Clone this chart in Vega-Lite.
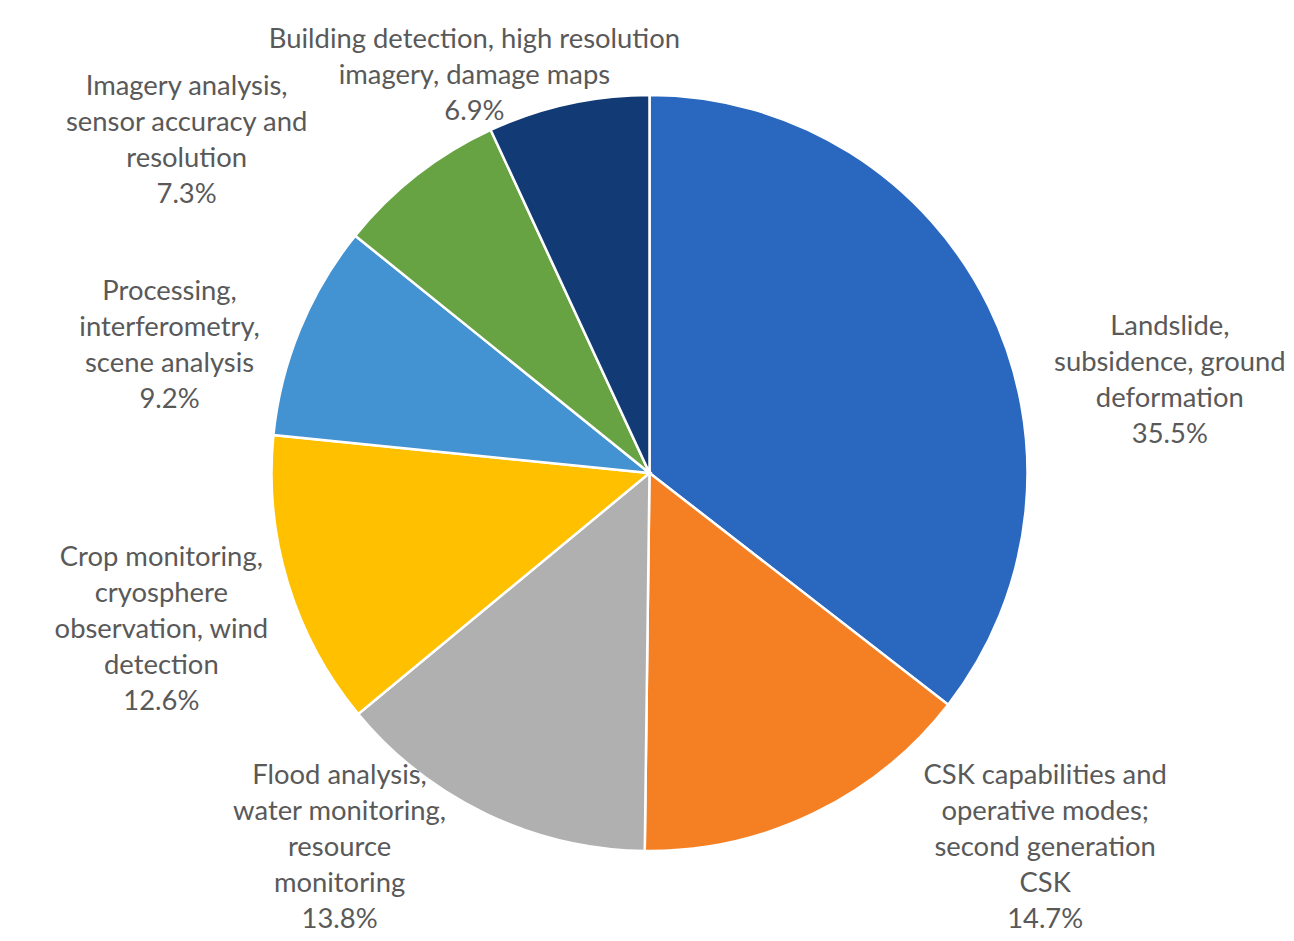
{
  "$schema": "https://vega.github.io/schema/vega-lite/v6.json",
  "autosize": {"type": "none"},
  "width": 1289,
  "height": 934,
  "padding": {"left": 5, "top": 6, "right": 0, "bottom": 1},
  "background": "white",
  "config": {"view": {"stroke": "#e3e3e3", "strokeWidth": 1.5}, "text": {"dy": 2.5}},
  "data": {
    "values": [
      {"name": "Landslide", "label": "Landslide,\nsubsidence, ground\ndeformation\n35.5%", "value": 35.5, "rank": 1},
      {"name": "CSK", "label": "CSK capabilities and\noperative modes;\nsecond generation\nCSK\n14.7%", "value": 14.7, "rank": 2},
      {"name": "Flood", "label": "Flood analysis,\nwater monitoring,\nresource\nmonitoring\n13.8%", "value": 13.8, "rank": 3},
      {"name": "Crop", "label": "Crop monitoring,\ncryosphere\nobservation, wind\ndetection\n12.6%", "value": 12.6, "rank": 4},
      {"name": "Processing", "label": "Processing,\ninterferometry,\nscene analysis\n9.2%", "value": 9.2, "rank": 5},
      {"name": "Imagery", "label": "Imagery analysis,\nsensor accuracy and\nresolution\n7.3%", "value": 7.3, "rank": 6},
      {"name": "Building", "label": "Building detection, high resolution\nimagery, damage maps\n6.9%", "value": 6.9, "rank": 7}
    ]
  },
  "transform": [
    {"stack": "value", "sort": [{"field": "rank", "order": "ascending"}], "groupby": [], "as": ["v0", "v1"]},
    {"calculate": "(datum.v0 + datum.v1) / 2", "as": "vmid"}
  ],
  "layer": [
    {
      "mark": {"type": "arc", "radius": 378, "stroke": "white", "strokeWidth": 2.5},
      "encoding": {
        "theta": {"field": "v0", "type": "quantitative", "scale": {"domain": [0, 100]}},
        "theta2": {"field": "v1"},
        "color": {
          "field": "name", "type": "nominal", "legend": null,
          "scale": {
            "domain": ["Landslide", "CSK", "Flood", "Crop", "Processing", "Imagery", "Building"],
            "range": ["#2A67BF", "#F57F23", "#B0B0B0", "#FFC000", "#4392D1", "#67A243", "#123B76"]
          }
        }
      }
    },
    {
      "transform": [{"filter": "datum.name == 'Landslide'"}],
      "mark": {"type": "text", "radius": 541, "thetaOffset": 0.1782, "lineBreak": "\n", "lineHeight": 36, "font": "Lato", "fontSize": 27.4, "color": "#595959", "align": "center", "baseline": "middle"},
      "encoding": {"theta": {"field": "vmid", "type": "quantitative"}, "text": {"field": "label"}}
    },
    {
      "transform": [{"filter": "datum.name == 'CSK'"}],
      "mark": {"type": "text", "radius": 497, "thetaOffset": -0.4716, "lineBreak": "\n", "lineHeight": 36, "font": "Lato", "fontSize": 27.4, "color": "#595959", "align": "center", "baseline": "middle"},
      "encoding": {"theta": {"field": "vmid", "type": "quantitative"}, "text": {"field": "label"}}
    },
    {
      "transform": [{"filter": "datum.name == 'Flood'"}],
      "mark": {"type": "text", "radius": 432, "thetaOffset": 0.354, "lineBreak": "\n", "lineHeight": 36, "font": "Lato", "fontSize": 27.4, "color": "#595959", "align": "center", "baseline": "middle"},
      "encoding": {"theta": {"field": "vmid", "type": "quantitative"}, "text": {"field": "label"}}
    },
    {
      "transform": [{"filter": "datum.name == 'Crop'"}],
      "mark": {"type": "text", "radius": 495, "thetaOffset": 0.1288, "lineBreak": "\n", "lineHeight": 36, "font": "Lato", "fontSize": 27.4, "color": "#595959", "align": "center", "baseline": "middle"},
      "encoding": {"theta": {"field": "vmid", "type": "quantitative"}, "text": {"field": "label"}}
    },
    {
      "transform": [{"filter": "datum.name == 'Processing'"}],
      "mark": {"type": "text", "radius": 514, "thetaOffset": -0.0236, "lineBreak": "\n", "lineHeight": 36, "font": "Lato", "fontSize": 27.4, "color": "#595959", "align": "center", "baseline": "middle"},
      "encoding": {"theta": {"field": "vmid", "type": "quantitative"}, "text": {"field": "label"}}
    },
    {
      "transform": [{"filter": "datum.name == 'Imagery'"}],
      "mark": {"type": "text", "radius": 604, "thetaOffset": -0.2103, "lineBreak": "\n", "lineHeight": 36, "font": "Lato", "fontSize": 27.4, "color": "#595959", "align": "center", "baseline": "middle"},
      "encoding": {"theta": {"field": "vmid", "type": "quantitative"}, "text": {"field": "label"}}
    },
    {
      "transform": [{"filter": "datum.name == 'Building'"}],
      "mark": {"type": "text", "radius": 469, "thetaOffset": -0.1658, "lineBreak": "\n", "lineHeight": 36, "font": "Lato", "fontSize": 27.4, "color": "#595959", "align": "center", "baseline": "middle"},
      "encoding": {"theta": {"field": "vmid", "type": "quantitative"}, "text": {"field": "label"}}
    }
  ]
}
